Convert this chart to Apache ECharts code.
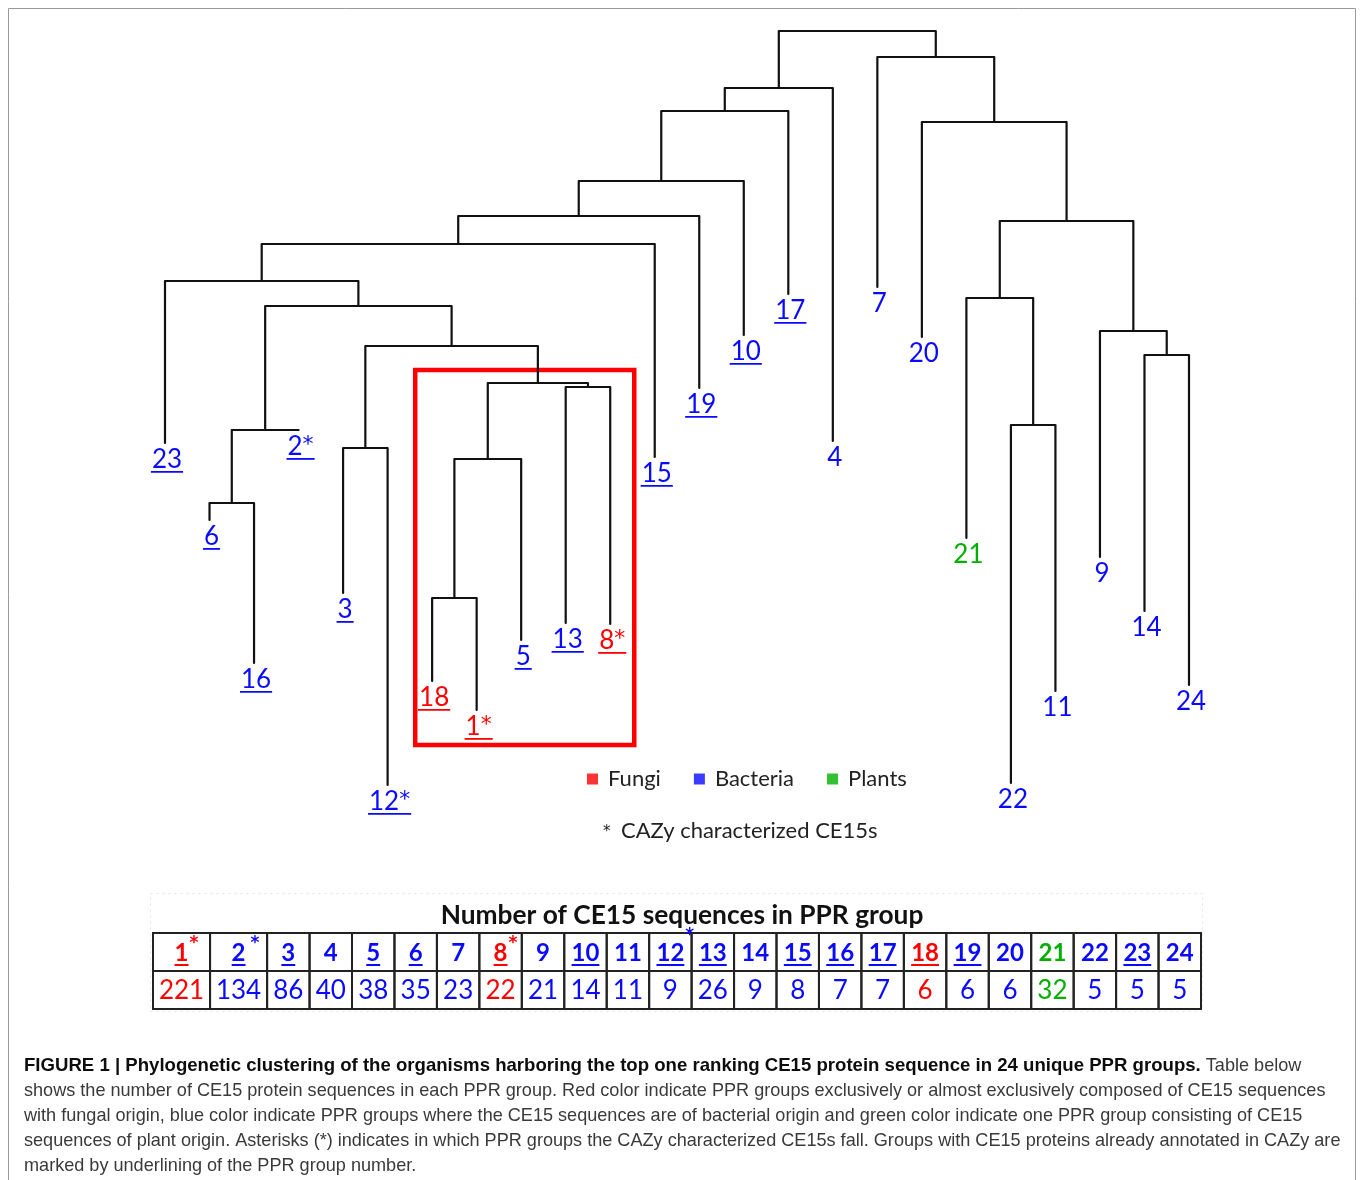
<!DOCTYPE html>
<html><head><meta charset="utf-8">
<script src="https://cdn.jsdelivr.net/npm/echarts@6/dist/echarts.min.js"></script>
<style>html,body{margin:0;padding:0;background:#fff}#main{width:1360px;height:1180px}</style>
</head><body><div id="main"></div>
<script>
// ---------------- DATA ----------------
const groupNames = ['1','2','3','4','5','6','7','8','9','10','11','12','13','14','15','16','17','18','19','20','21','22','23','24'];
const groupCounts = [221,134,86,40,38,35,23,22,21,14,11,9,26,9,8,7,7,6,6,6,32,5,5,5];
const groupOrigin = ['Fungi','Bacteria','Bacteria','Bacteria','Bacteria','Bacteria','Bacteria','Fungi','Bacteria','Bacteria','Bacteria','Bacteria','Bacteria','Bacteria','Bacteria','Bacteria','Bacteria','Fungi','Bacteria','Bacteria','Plants','Bacteria','Bacteria','Bacteria'];
const groupCazyStar = ['1','2','8','12'];
const groupUnderlined = ['1','2','3','5','6','8','10','12','13','15','16','17','18','19','23'];
// dendrogram leaves, left to right, with their branch-end heights
const leafOrder = ['23','6','16','2','3','12','18','1','5','13','8','15','19','10','17','4','7','20','21','22','11','9','14','24'];
const leafHeights = [3.57,2.80,1.37,3.70,2.07,0.15,1.19,0.90,1.60,1.77,1.76,3.43,4.12,4.65,5.06,3.59,5.13,4.63,2.62,0.17,1.09,2.43,1.89,1.15];
// merges: [left child, right child, height]; internal nodes referenced as 'n'+index
const merges = [
  ['18','1',2.02],    // n0
  ['6','16',2.97],    // n1
  ['3','12',3.52],    // n2
  ['13','8',4.13],    // n3
  ['n0','5',3.41],    // n4
  ['n4','n3',4.17],   // n5
  ['n1','2',3.70],    // n6
  ['n2','n5',4.54],   // n7
  ['n6','n7',4.94],   // n8
  ['23','n8',5.19],   // n9
  ['n9','15',5.56],   // n10
  ['n10','19',5.84],  // n11
  ['n11','10',6.19],  // n12
  ['n12','17',6.89],  // n13
  ['n13','4',7.12],   // n14
  ['22','11',3.75],   // n15
  ['14','24',4.45],   // n16
  ['21','n15',5.02],  // n17
  ['9','n16',4.69],   // n18
  ['n17','n18',5.79], // n19
  ['20','n19',6.78],  // n20
  ['7','n20',7.43],   // n21
  ['n14','n21',7.69]  // n22
];
const highlightClade = ['18','1','5','13','8'];
const highlightNode = 'n5';
const legendNames = ['Fungi','Bacteria','Plants'];
const tableTitle = 'Number of CE15 sequences in PPR group';
const legendNote = 'CAZy characterized CE15s';
const captionBold = 'FIGURE 1 | Phylogenetic clustering of the organisms harboring the top one ranking CE15 protein sequence in 24 unique PPR groups.';
const captionLines = [
  ' Table below',
  'shows the number of CE15 protein sequences in each PPR group. Red color indicate PPR groups exclusively or almost exclusively composed of CE15 sequences',
  'with fungal origin, blue color indicate PPR groups where the CE15 sequences are of bacterial origin and green color indicate one PPR group consisting of CE15',
  'sequences of plant origin. Asterisks (*) indicates in which PPR groups the CAZy characterized CE15s fall. Groups with CE15 proteins already annotated in CAZy are',
  'marked by underlining of the PPR group number.'
];

// ---------------- DERIVED ----------------
const originColor = {Fungi:'#ff0000', Bacteria:'#0a0aff', Plants:'#00b000'};
const starSet = new Set(groupCazyStar);
const ulSet = new Set(groupUnderlined);
const colorOf = g => originColor[groupOrigin[groupNames.indexOf(g)]];

const pos = {};
leafOrder.forEach((g,i)=>{ pos[g] = {x:i, h:leafHeights[i]}; });
const treeSegs = [];
merges.forEach((m,k)=>{
  const a = pos[m[0]], b = pos[m[1]];
  treeSegs.push([a.x, a.h, b.x, b.h, m[2]]);
  pos['n'+k] = {x:(a.x+b.x)/2, h:m[2]};
});
const labelData = leafOrder.map((g,i)=>[i, leafHeights[i]]);
const cladeIdx = highlightClade.map(g=>pos[g].x);
const cladeMinH = Math.min(...highlightClade.map(g=>pos[g].h));
const boxData = [[Math.min(...cladeIdx)-0.38, Math.max(...cladeIdx)+0.54, pos[highlightNode].h+0.13, cladeMinH-0.35]];

// table columns (wider for 3-digit counts)
const colW = groupCounts.map(v=>Math.max(1, String(v).length*0.448));
let acc = 0;
const tableData = colW.map(w=>{ const s = acc; acc += w; return [s, acc]; });
const tableTotal = acc;

const mctx = document.createElement('canvas').getContext('2d');
function textW(t, font){ mctx.font = font; return mctx.measureText(t).width; }

// ---------------- CHART ----------------
const chart = echarts.init(document.getElementById('main'));
const LFONT = '26px Lato';
const SFONT = '22px "DejaVu Sans"';
const CAPF = 18.1;
const option = {
  backgroundColor:'#fff',
  animation:false,
  title:{
    text: tableTitle, left: 677, top: 898, textAlign:'center',
    textStyle:{fontFamily:'Lato', fontWeight:'bold', fontSize:26.3, color:'#111'}
  },
  legend:{
    data: legendNames.map(n=>({name:n, icon:'rect'})),
    left: 582, top: 763, itemWidth:11, itemHeight:11, itemGap:33, selectedMode:false,
    textStyle:{fontFamily:'Lato', fontSize:22, color:'#222', padding:[0,0,0,5]}
  },
  grid:[
    {left:165, right:171, top:31, bottom:380},
    {left:153, top:933, width:1048, height:76}
  ],
  xAxis:[
    {type:'value', min:0, max:23, show:false, gridIndex:0},
    {type:'value', min:0, max:tableTotal, show:false, gridIndex:1}
  ],
  yAxis:[
    {type:'value', min:0, max:7.69, show:false, gridIndex:0},
    {type:'value', min:0, max:2, inverse:true, show:false, gridIndex:1}
  ],
  graphic:[
    {type:'rect', shape:{x:8.5, y:8.5, width:1347, height:1200}, style:{fill:null, stroke:'#9a9a9a', lineWidth:1}, silent:true},
    {type:'rect', shape:{x:150.5, y:893.5, width:1052, height:118}, style:{fill:null, stroke:'#e4e4e4', lineWidth:1, lineDash:[2,4]}, silent:true},
    {type:'text', x:603, y:832, style:{text:'*', font:'15px "DejaVu Sans"', fill:'#222', align:'left', verticalAlign:'middle'}},
    {type:'text', x:621, y:831, style:{text:legendNote, font:'22px Lato', fill:'#222', align:'left', verticalAlign:'middle'}},
    {type:'text', x:24, y:1066, style:{
      text:'{b|'+captionBold+'}{r|'+captionLines[0]+'}', verticalAlign:'middle', align:'left',
      rich:{b:{fontFamily:'Liberation Sans', fontWeight:'bold', fontSize:18.6, fill:'#0d0d0d'}, r:{fontFamily:'Liberation Sans', fontSize:CAPF, fill:'#3a3a3a'}}
    }},
    ...captionLines.slice(1).map((t,i)=>({type:'text', x:24, y:1091+25*i, style:{
      text:t, verticalAlign:'middle', align:'left', fontFamily:'Liberation Sans', fontSize:CAPF, fill:'#3a3a3a'
    }}))
  ],
  series:[
    ...legendNames.map(n=>({type:'scatter', name:n, data:[], xAxisIndex:0, yAxisIndex:0, itemStyle:{color:originColor[n]}})),
    {
      type:'custom', name:'tree', xAxisIndex:0, yAxisIndex:0, silent:true,
      data: treeSegs,
      renderItem(params, api){
        const a = api.coord([api.value(0), api.value(1)]);
        const at = api.coord([api.value(0), api.value(4)]);
        const bt = api.coord([api.value(2), api.value(4)]);
        const b = api.coord([api.value(2), api.value(3)]);
        return {type:'polyline', shape:{points:[a, at, bt, b]},
          style:{stroke:'#111', lineWidth:2.2, fill:null, lineJoin:'round', lineCap:'round'}};
      }
    },
    {
      type:'custom', name:'clade', xAxisIndex:0, yAxisIndex:0, silent:true, z:1,
      data: boxData,
      renderItem(params, api){
        const tl = api.coord([api.value(0), api.value(2)]);
        const br = api.coord([api.value(1), api.value(3)]);
        return {type:'rect', shape:{x:tl[0], y:tl[1], width:br[0]-tl[0], height:br[1]-tl[1]},
          style:{fill:null, stroke:'#ff0000', lineWidth:4.5}};
      }
    },
    {
      type:'custom', name:'leafLabels', xAxisIndex:0, yAxisIndex:0, silent:true,
      data: labelData,
      renderItem(params, api){
        const g = leafOrder[params.dataIndex];
        const p = api.coord([api.value(0), api.value(1)]);
        const col = colorOf(g);
        const star = starSet.has(g);
        const wN = textW(g, LFONT), wS = star ? textW('*', SFONT) : 0;
        const tot = wN + wS;
        const cx = p[0] + 2, cy = p[1] + 17;
        const x0 = cx - tot/2;
        const ch = [{type:'text', x:x0, y:cy, style:{text:g, fill:col, font:LFONT, align:'left', verticalAlign:'middle'}}];
        if (star) ch.push({type:'text', x:x0+wN, y:cy-2, style:{text:'*', fill:col, font:SFONT, align:'left', verticalAlign:'middle'}});
        if (ulSet.has(g)) ch.push({type:'rect', shape:{x:x0-1, y:p[1]+28, width:tot+2, height:1.8}, style:{fill:col}});
        return {type:'group', children:ch};
      }
    },
    {
      type:'custom', name:'table', xAxisIndex:1, yAxisIndex:1, silent:true,
      data: tableData,
      renderItem(params, api){
        const i = params.dataIndex;
        const g = groupNames[i];
        const col = originColor[groupOrigin[i]];
        const tl = api.coord([api.value(0), 0]);
        const mr = api.coord([api.value(1), 1]);
        const br = api.coord([api.value(1), 2]);
        const cx = (tl[0]+br[0])/2;
        const HF = 'bold 24px Lato', VF = '26px Lato';
        const ch = [
          {type:'rect', shape:{x:tl[0], y:tl[1], width:br[0]-tl[0], height:mr[1]-tl[1]}, style:{fill:null, stroke:'#222', lineWidth:2}},
          {type:'rect', shape:{x:tl[0], y:mr[1], width:br[0]-tl[0], height:br[1]-mr[1]}, style:{fill:null, stroke:'#222', lineWidth:2}},
          {type:'text', x:cx, y:(tl[1]+mr[1])/2+1, style:{text:g, fill:col, font:HF, align:'center', verticalAlign:'middle'}},
          {type:'text', x:cx, y:(mr[1]+br[1])/2+1, style:{text:String(groupCounts[i]), fill:col, font:VF, align:'center', verticalAlign:'middle'}}
        ];
        const w = textW(g, HF);
        if (ulSet.has(g)) ch.push({type:'rect', shape:{x:cx-w/2, y:mr[1]-7, width:w, height:2}, style:{fill:col}});
        if (starSet.has(g)) ch.push({type:'text', x:cx+w/2+(g==='2'?5:1), y:tl[1]+(g==='12'?3:11), style:{text:'*', fill:col, font:'bold 17px "DejaVu Sans"', align:'left', verticalAlign:'middle'}});
        return {type:'group', children:ch};
      }
    }
  ]
};
chart.setOption(option);
</script>
</body></html>
